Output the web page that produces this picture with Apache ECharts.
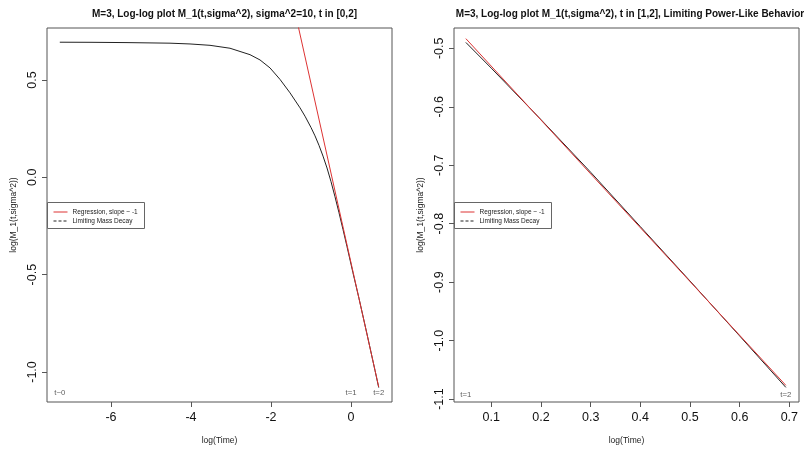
<!DOCTYPE html>
<html>
<head>
<meta charset="utf-8">
<script src="https://cdn.jsdelivr.net/npm/echarts@6/dist/echarts.min.js"></script>
<style>
html,body{margin:0;padding:0;background:#fff;}
#chart{width:804px;height:453px;}
</style>
</head>
<body>
<div id="chart"></div>
<script>
// ---------- Left panel: t in [0,2] ----------
var leftTitle = "M=3, Log-log plot M_1(t,sigma^2), sigma^2=10, t in [0,2]";
var leftCurveX = [-7.28, -6.5, -5.6, -4.525, -4.025, -3.525, -3.025, -2.525, -2.275, -2.025, -1.775, -1.525, -1.275, -1.15, -1.0, -0.9, -0.8, -0.7, -0.6, -0.5, -0.4, -0.3, -0.2, -0.1, 0, 0.0488, 0.2, 0.4, 0.6, 0.693];
var leftCurveY = [0.694, 0.6935, 0.692, 0.689, 0.685, 0.678, 0.663, 0.630, 0.603, 0.562, 0.503, 0.434, 0.357, 0.314, 0.256, 0.213, 0.164, 0.109, 0.048, -0.022, -0.100, -0.182, -0.268, -0.356, -0.446, -0.490, -0.622, -0.805, -0.992, -1.080];
var leftRegX = [-7.28, 0.693];
var leftRegY = [6.263, -1.0765];
var leftXTicks = [-6, -4, -2, 0];
var leftYTicks = [-1.0, -0.5, 0.0, 0.5];
var leftNotes = ["t~0", "t=1", "t=2"];
var leftNoteX = [-7.28, 0, 0.693];
var leftNoteY = [-1.109, -1.109, -1.109];

// ---------- Right panel: t in [1,2] ----------
var rightTitle = "M=3, Log-log plot M_1(t,sigma^2), t in [1,2], Limiting Power-Like Behavior";
var rightCurveX = [0.0488, 0.1, 0.2, 0.3, 0.4, 0.5, 0.6, 0.693];
var rightCurveY = [-0.490, -0.534, -0.622, -0.712, -0.805, -0.898, -0.992, -1.080];
var rightRegX = [0.0488, 0.693];
var rightRegY = [-0.4835, -1.0765];
var rightXTicks = [0.1, 0.2, 0.3, 0.4, 0.5, 0.6, 0.7];
var rightYTicks = [-1.1, -1.0, -0.9, -0.8, -0.7, -0.6, -0.5];
var rightNotes = ["t=1", "t=2"];
var rightNoteX = [0.0488, 0.693];
var rightNoteY = [-1.092, -1.092];

var xName = "log(Time)";
var yName = "log(M_1(t,sigma^2))";
var legendNames = ["Regression, slope ~ -1", "Limiting Mass Decay"];

function pairs(xs, ys) { return xs.map(function (x, i) { return [x, ys[i]]; }); }
function notes(xs, ys, ts) { return xs.map(function (x, i) { return [x, ys[i], ts[i]]; }); }

var FONT = "Liberation Sans, Arial, sans-serif";
var AX = '#555';

function xAxisCfg(idx, min, max, ticks) {
  return {
    gridIndex: idx, type: 'value', min: min, max: max,
    name: xName, nameLocation: 'middle', nameGap: 34,
    nameTextStyle: { fontFamily: FONT, fontSize: 8.5, color: '#222' },
    axisLine: { show: false, onZero: false },
    splitLine: { show: false },
    axisTick: { show: true, inside: false, length: 5, customValues: ticks, lineStyle: { color: AX } },
    axisLabel: { show: true, customValues: ticks, margin: 9, fontFamily: FONT, fontSize: 12.5, color: '#111',
      formatter: function (v) { return idx === 0 ? String(Math.round(v)) : v.toFixed(1); } }
  };
}
function yAxisCfg(idx, min, max, ticks) {
  return {
    gridIndex: idx, type: 'value', min: min, max: max,
    name: yName, nameLocation: 'middle', nameGap: 29, nameRotate: 90,
    nameTextStyle: { fontFamily: FONT, fontSize: 8.5, color: '#222' },
    axisLine: { show: false, onZero: false },
    splitLine: { show: false },
    axisTick: { show: true, inside: false, length: 5, customValues: ticks, lineStyle: { color: AX } },
    axisLabel: { show: true, customValues: ticks, rotate: 90, margin: 8, fontFamily: FONT, fontSize: 12.5, color: '#111',
      formatter: function (v) { return v.toFixed(1); } }
  };
}

function legendGraphic(x0) {
  return {
    type: 'group', left: x0, top: 202,
    children: [
      { type: 'rect', shape: { x: 0, y: 0, width: 97, height: 26 }, style: { fill: '#fff', stroke: '#666', lineWidth: 1 } },
      { type: 'line', shape: { x1: 6, y1: 9.5, x2: 20, y2: 9.5 }, style: { stroke: '#dd3333', lineWidth: 1 } },
      { type: 'line', shape: { x1: 6, y1: 18.5, x2: 20, y2: 18.5 }, style: { stroke: '#222', lineWidth: 1, lineDash: [3, 2] } },
      { type: 'text', x: 25, y: 9.5, style: { text: legendNames[0], fontFamily: FONT, fontSize: 6.5, fill: '#222', verticalAlign: 'middle' } },
      { type: 'text', x: 25, y: 18.5, style: { text: legendNames[1], fontFamily: FONT, fontSize: 6.5, fill: '#222', verticalAlign: 'middle' } }
    ]
  };
}

function noteSeries(idx, data) {
  return {
    type: 'scatter', xAxisIndex: idx, yAxisIndex: idx, data: data, symbolSize: 0, silent: true,
    label: { show: true, position: 'inside', fontFamily: FONT, fontSize: 7.8, color: '#333',
      formatter: function (p) { return p.data[2]; } }
  };
}

var chart = echarts.init(document.getElementById('chart'), null, { renderer: 'canvas' });
chart.setOption({
  backgroundColor: '#fff',
  animation: false,
  title: [
    { text: leftTitle, left: 219.5, top: 4, textAlign: 'center', textStyle: { fontFamily: FONT, fontWeight: 'bold', fontSize: 10, color: '#111' } },
    { text: rightTitle, left: 625, top: 4, textAlign: 'center', textStyle: { fontFamily: FONT, fontWeight: 'bold', fontSize: 10, color: '#111' } }
  ],
  grid: [
    { left: 47, top: 28, width: 345, height: 374, show: true, borderColor: AX, borderWidth: 1, backgroundColor: 'transparent' },
    { left: 454, top: 28, width: 345, height: 374, show: true, borderColor: AX, borderWidth: 1, backgroundColor: 'transparent' }
  ],
  xAxis: [ xAxisCfg(0, -7.6, 1.025, leftXTicks), xAxisCfg(1, 0.0249, 0.7195, rightXTicks) ],
  yAxis: [ yAxisCfg(0, -1.154, 0.767, leftYTicks), yAxisCfg(1, -1.105, -0.4653, rightYTicks) ],
  series: [
    { type: 'line', xAxisIndex: 0, yAxisIndex: 0, data: pairs(leftCurveX, leftCurveY), showSymbol: false, smooth: false, clip: true,
      lineStyle: { color: '#222', width: 1 } },
    { type: 'line', xAxisIndex: 0, yAxisIndex: 0, data: pairs(leftRegX, leftRegY), showSymbol: false, clip: true,
      lineStyle: { color: '#dd3333', width: 1 } },
    noteSeries(0, notes(leftNoteX, leftNoteY, leftNotes)),
    { type: 'line', xAxisIndex: 1, yAxisIndex: 1, data: pairs(rightCurveX, rightCurveY), showSymbol: false, smooth: false, clip: true,
      lineStyle: { color: '#222', width: 1 } },
    { type: 'line', xAxisIndex: 1, yAxisIndex: 1, data: pairs(rightRegX, rightRegY), showSymbol: false, clip: true,
      lineStyle: { color: '#dd3333', width: 1 } },
    noteSeries(1, notes(rightNoteX, rightNoteY, rightNotes))
  ],
  graphic: [ legendGraphic(47), legendGraphic(454) ]
});
</script>
</body>
</html>
